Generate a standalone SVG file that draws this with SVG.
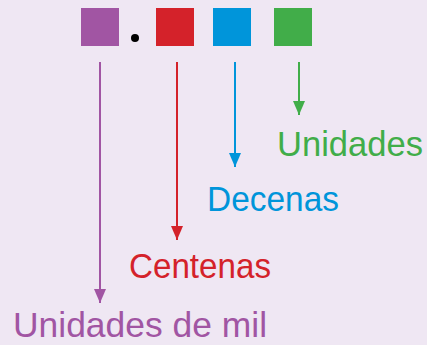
<svg xmlns="http://www.w3.org/2000/svg" width="427" height="345" viewBox="0 0 427 345">
  <style>
    .lbl { font-family: "Liberation Sans", Arial, sans-serif; font-size: 35px; }
    .ln { stroke-width: 2; fill: none; }
  </style>
  <defs>
    <marker id="ah-p" viewBox="0 0 14 12" refX="14" refY="6" markerWidth="14" markerHeight="12" markerUnits="userSpaceOnUse" orient="auto"><path d="M0,0 L14,6 L0,12 Z" fill="#A155A3"/></marker>
    <marker id="ah-r" viewBox="0 0 14 12" refX="14" refY="6" markerWidth="14" markerHeight="12" markerUnits="userSpaceOnUse" orient="auto"><path d="M0,0 L14,6 L0,12 Z" fill="#D4222A"/></marker>
    <marker id="ah-b" viewBox="0 0 14 12" refX="14" refY="6" markerWidth="14" markerHeight="12" markerUnits="userSpaceOnUse" orient="auto"><path d="M0,0 L14,6 L0,12 Z" fill="#0095DA"/></marker>
    <marker id="ah-g" viewBox="0 0 14 12" refX="14" refY="6" markerWidth="14" markerHeight="12" markerUnits="userSpaceOnUse" orient="auto"><path d="M0,0 L14,6 L0,12 Z" fill="#41AD49"/></marker>
  </defs>
  <rect x="0" y="0" width="427" height="345" fill="#EFE7F3"/>
  <g id="sq-mil"><rect x="81" y="8" width="38" height="38" fill="#A155A3"/></g>
  <g id="dot"><circle cx="135" cy="38" r="4" fill="#000"/></g>
  <g id="sq-cent"><rect x="156" y="8" width="38" height="38" fill="#D4222A"/></g>
  <g id="sq-dec"><rect x="213" y="8" width="38" height="38" fill="#0095DA"/></g>
  <g id="sq-uni"><rect x="274" y="8" width="38" height="38" fill="#41AD49"/></g>
  <g id="connectors">
    <line class="ln" x1="100" y1="62" x2="100" y2="303" stroke="#A155A3" marker-end="url(#ah-p)"/>
    <line class="ln" x1="177" y1="62" x2="177" y2="240" stroke="#D4222A" marker-end="url(#ah-r)"/>
    <line class="ln" x1="235" y1="62" x2="235" y2="167" stroke="#0095DA" marker-end="url(#ah-b)"/>
    <line class="ln" x1="299" y1="62" x2="299" y2="115" stroke="#41AD49" marker-end="url(#ah-g)"/>
  </g>
  <g id="lbl-uni"><text class="lbl" x="277" y="156" fill="#41AD49" textLength="146" lengthAdjust="spacingAndGlyphs">Unidades</text></g>
  <g id="lbl-dec"><text class="lbl" x="207" y="211" fill="#0095DA" textLength="132" lengthAdjust="spacingAndGlyphs">Decenas</text></g>
  <g id="lbl-cent"><text class="lbl" x="129" y="278" fill="#D4222A" textLength="142" lengthAdjust="spacingAndGlyphs">Centenas</text></g>
  <g id="lbl-mil"><text class="lbl" x="13" y="337" fill="#A155A3" textLength="254" lengthAdjust="spacingAndGlyphs">Unidades de mil</text></g>
</svg>
